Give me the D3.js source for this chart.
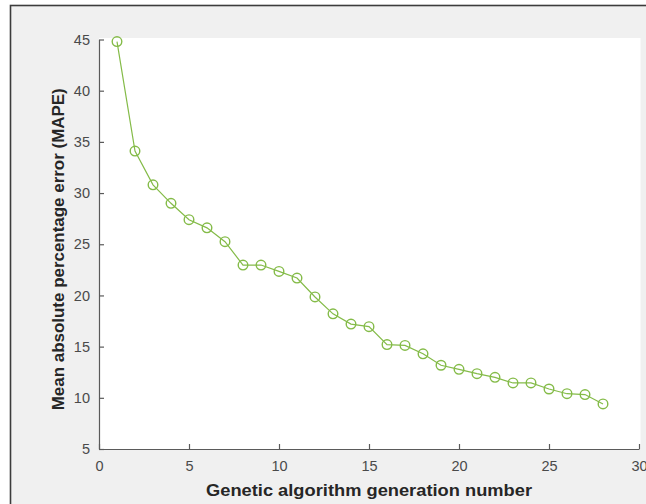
<!DOCTYPE html>
<html>
<head>
<meta charset="utf-8">
<script src="https://cdn.jsdelivr.net/npm/d3@7"></script>
<style>
  body { margin: 0; background: #fff; }
  text { font-family: "Liberation Sans", Arial, sans-serif; }
</style>
</head>
<body>
<div id="chart"></div>
<script>
// MAPE by generation of the genetic algorithm

const generations = d3.range(1, 29);
const mape = [44.8, 34.1, 30.8, 29.0, 27.4, 26.6, 25.25, 22.97, 22.97, 22.35,
    21.7, 19.85, 18.2, 17.2, 16.95, 15.2, 15.12, 14.3, 13.18, 12.78,
    12.36, 12.0, 11.45, 11.45, 10.86, 10.4, 10.32, 9.4];
const xTicks = [0, 5, 10, 15, 20, 25, 30];
const yTicks = [5, 10, 15, 20, 25, 30, 35, 40, 45];

const svgWidth = 646;
const svgHeight = 504;

// axes box in page pixels
const margin = { top: 39.5, left: 99, right: 7, bottom: 55 };
const plotW = svgWidth - margin.left - margin.right;
const plotH = svgHeight - margin.top - margin.bottom;

const svg = d3.select("#chart")
    .append("svg")
    .attr("width", svgWidth)
    .attr("height", svgHeight);

// figure background with frame
svg.append("rect")
    .attr("x", 10.5)
    .attr("y", 5.5)
    .attr("width", svgWidth)
    .attr("height", svgHeight)
    .attr("fill", "#f0f0f0")
    .attr("stroke", "#3c3c3c")
    .attr("stroke-width", 1.6);

const chart = svg.append("g")
    .attr("transform", `translate(${margin.left}, ${margin.top})`);

const x = d3.scaleLinear().domain([0, 30]).range([0, plotW]);
const y = d3.scaleLinear().domain([5, 45]).range([plotH, 0]);

// white axes area
chart.append("rect")
    .attr("x", 0)
    .attr("y", -1.5)
    .attr("width", x(30) + 1.5)
    .attr("height", plotH + 1.5)
    .attr("fill", "#fff");

const axisColor = "#5a5a5a";

const xAxis = chart.append("g")
    .attr("transform", `translate(0, ${plotH})`)
    .call(d3.axisBottom(x).tickValues(xTicks).tickSizeInner(-5).tickSizeOuter(0).tickPadding(12));

const yAxis = chart.append("g")
    .call(d3.axisLeft(y).tickValues(yTicks).tickSizeInner(-5).tickSizeOuter(0).tickPadding(9));

[xAxis, yAxis].forEach(function(ax) {
    ax.select(".domain").attr("stroke", axisColor).attr("stroke-width", 1.2);
    ax.selectAll(".tick line").attr("stroke", axisColor).attr("stroke-width", 1.2);
    ax.selectAll(".tick text")
        .attr("fill", "#4a4a4a")
        .style("font-size", "14.5px")
        .style("font-family", "'Liberation Sans', Arial, sans-serif");
});

// line + open circle markers
const lineColor = "#84bb48";
const pts = generations.map((g, i) => ({ g: g, v: mape[i] }));

chart.append("path")
    .datum(pts)
    .attr("fill", "none")
    .attr("stroke", lineColor)
    .attr("stroke-width", 1.2)
    .attr("d", d3.line().x(d => x(d.g)).y(d => y(d.v)));

chart.selectAll("circle.marker")
    .data(pts)
    .enter()
    .append("circle")
    .attr("class", "marker")
    .attr("cx", d => x(d.g))
    .attr("cy", d => y(d.v))
    .attr("r", 4.8)
    .attr("fill", "none")
    .attr("stroke", lineColor)
    .attr("stroke-width", 1.4);

// axis labels
chart.append("text")
    .attr("x", plotW / 2)
    .attr("y", plotH + 47)
    .attr("text-anchor", "middle")
    .attr("fill", "#262626")
    .attr("textLength", 326)
    .attr("lengthAdjust", "spacingAndGlyphs")
    .style("font-size", "16.5px")
    .style("font-weight", "bold")
    .text("Genetic algorithm generation number");

chart.append("text")
    .attr("transform", `translate(-35, ${plotH / 2 + 5}) rotate(-90)`)
    .attr("text-anchor", "middle")
    .attr("fill", "#262626")
    .attr("textLength", 322)
    .attr("lengthAdjust", "spacingAndGlyphs")
    .style("font-size", "16px")
    .style("font-weight", "bold")
    .text("Mean absolute percentage error (MAPE)");
</script>
</body>
</html>
